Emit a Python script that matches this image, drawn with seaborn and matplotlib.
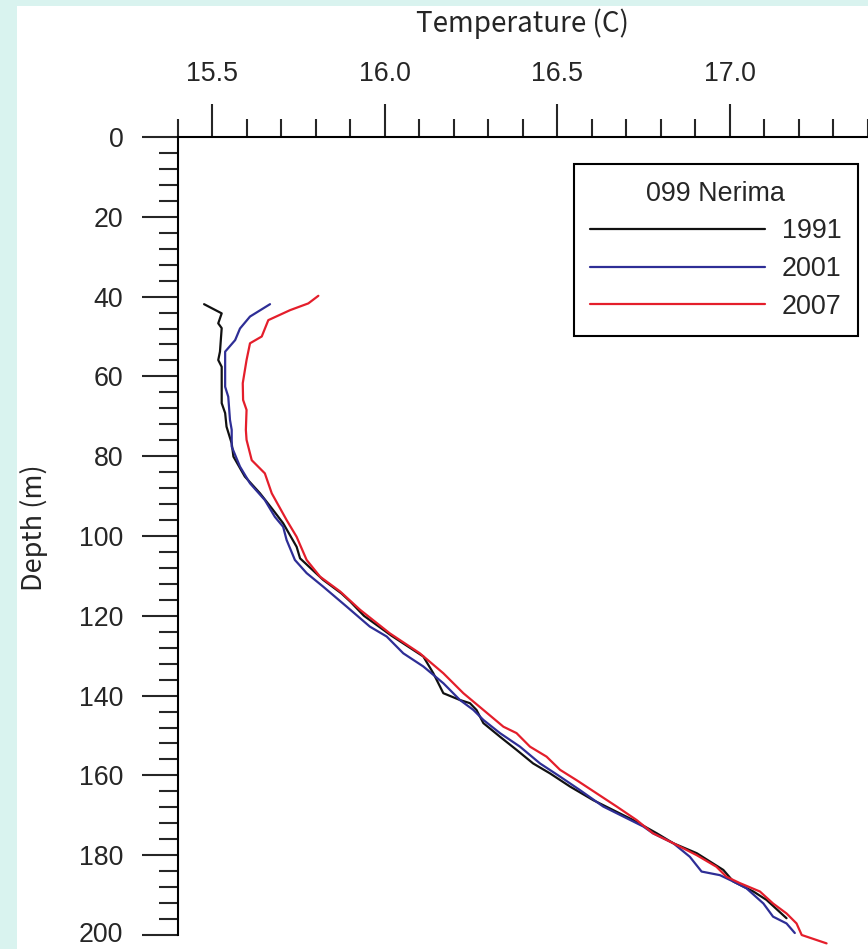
import numpy as np
import pandas as pd
import matplotlib
matplotlib.use('Agg')
import matplotlib.pyplot as plt
from matplotlib.ticker import MultipleLocator, FormatStrFormatter
from matplotlib.patches import Rectangle
from matplotlib.transforms import ScaledTranslation
import seaborn as sns

# 099 Nerima - temperature profiles
depth_1991 = [41.9, 44.2, 46.7, 47.9, 53.8, 55.9, 57.6, 62.0, 66.7, 69.2, 72.6, 76.8, 80.1,
              85.1, 89.3, 93.5, 96.8, 102.7, 105.6, 111.0, 114.4, 116.4, 120.0, 125.0, 130.2,
              134.4, 139.4, 141.1, 141.9, 143.6, 146.9, 150.3, 153.6, 157.0, 159.5, 162.8,
              166.2, 168.7, 171.2, 174.5, 177.0, 179.5, 183.7, 186.6, 189.1, 191.2, 195.8]
temp_1991 = [15.477, 15.528, 15.518, 15.528, 15.523, 15.518, 15.528, 15.528, 15.528, 15.538,
             15.542, 15.557, 15.562, 15.595, 15.639, 15.677, 15.706, 15.745, 15.755, 15.822,
             15.875, 15.900, 15.940, 16.020, 16.112, 16.141, 16.170, 16.218, 16.247, 16.266,
             16.286, 16.334, 16.382, 16.430, 16.479, 16.537, 16.604, 16.662, 16.720, 16.788,
             16.836, 16.904, 16.981, 17.010, 17.068, 17.106, 17.164]

depth_2001 = [41.9, 45.0, 48.0, 50.9, 53.8, 62.6, 65.1, 70.9, 73.4, 77.6, 82.6, 86.8, 91.0,
              95.2, 97.7, 101.0, 106.0, 109.3, 112.7, 117.7, 122.7, 125.2, 129.4, 132.7, 136.9,
              141.1, 143.6, 146.1, 149.4, 152.8, 157.0, 160.3, 163.7, 167.8, 170.3, 172.8,
              174.5, 177.0, 180.4, 184.1, 185.0, 186.6, 188.3, 192.1, 195.4, 197.1, 199.5]
temp_2001 = [15.668, 15.610, 15.581, 15.567, 15.538, 15.538, 15.547, 15.552, 15.557, 15.557,
             15.581, 15.610, 15.653, 15.682, 15.706, 15.716, 15.740, 15.774, 15.822, 15.890,
             15.957, 16.006, 16.054, 16.112, 16.170, 16.218, 16.257, 16.286, 16.334, 16.392,
             16.450, 16.508, 16.566, 16.633, 16.691, 16.749, 16.777, 16.836, 16.884, 16.918,
             16.971, 17.010, 17.048, 17.097, 17.125, 17.164, 17.188]

depth_2007 = [39.8, 41.7, 43.4, 45.9, 50.0, 51.7, 55.9, 61.7, 65.9, 68.4, 73.4, 75.9, 81.0,
              84.3, 89.3, 96.0, 100.2, 106.0, 110.2, 113.9, 118.5, 124.4, 129.4, 134.4, 139.4,
              143.6, 147.8, 149.4, 152.8, 155.3, 158.6, 161.2, 164.5, 167.8, 171.2, 174.5,
              177.0, 180.0, 182.9, 185.4, 187.0, 189.1, 192.1, 194.6, 197.1, 200.0, 202.1]
temp_2007 = [15.808, 15.779, 15.726, 15.663, 15.644, 15.610, 15.600, 15.589, 15.590, 15.600,
             15.598, 15.600, 15.615, 15.653, 15.673, 15.716, 15.745, 15.774, 15.813, 15.871,
             15.929, 16.015, 16.102, 16.170, 16.228, 16.286, 16.344, 16.382, 16.421, 16.469,
             16.508, 16.556, 16.614, 16.672, 16.730, 16.777, 16.836, 16.904, 16.961, 16.990,
             17.029, 17.087, 17.125, 17.164, 17.193, 17.208, 17.280]

years = ['1991', '2001', '2007']
colors = {'1991': '#111111', '2001': '#2e2e96', '2007': '#e41e2b'}

frames = []
for yr, d, t in zip(years, [depth_1991, depth_2001, depth_2007],
                    [temp_1991, temp_2001, temp_2007]):
    frames.append(pd.DataFrame({'Temperature': t, 'Depth': d, 'Year': yr}))
df = pd.concat(frames, ignore_index=True)

sns.set_style('white')
plt.rcParams['font.family'] = ['Liberation Sans', 'DejaVu Sans']
label_font = ['Noto Sans CJK JP', 'DejaVu Sans']

fig = plt.figure(figsize=(8.68, 9.49), dpi=100)
fig.patch.set_facecolor('#d9f3ef')
fig.patches.append(Rectangle((17 / 868, 0), 1, (949 - 6) / 949, transform=fig.transFigure,
                             facecolor='white', edgecolor='none', zorder=-1))
ax = fig.add_axes([177.5 / 868, 14 / 949, 690.5 / 868, 798 / 949])
ax.set_facecolor('none')

sns.lineplot(data=df, x='Temperature', y='Depth', hue='Year', palette=colors,
             orient='y', sort=False, estimator=None, linewidth=1.6, ax=ax, legend=False)
for ln in ax.lines:
    ln.set_clip_on(False)

ax.set_xlim(15.4, 17.4)
ax.set_ylim(200, 0)

for s in ['right', 'bottom']:
    ax.spines[s].set_visible(False)
for s in ['left', 'top']:
    ax.spines[s].set_linewidth(1.5)
    ax.spines[s].set_color('black')

ax.xaxis.tick_top()
ax.xaxis.set_label_position('top')
ax.set_xticks([15.5, 16.0, 16.5, 17.0])
ax.xaxis.set_minor_locator(MultipleLocator(0.1))
ax.xaxis.set_major_formatter(FormatStrFormatter('%.1f'))
ax.set_yticks(np.arange(0, 201, 20))
ax.yaxis.set_minor_locator(MultipleLocator(4))

ax.tick_params(axis='x', which='major', direction='out', length=24, width=1.5,
               pad=12, labelsize=19.3, top=True, bottom=False)
ax.tick_params(axis='x', which='minor', direction='out', length=13, width=1.5,
               top=True, bottom=False)
ax.tick_params(axis='y', which='major', direction='out', length=26, width=1.5,
               pad=13, labelsize=19.3, left=True)
ax.tick_params(axis='y', which='minor', direction='out', length=14, width=1.5, left=True)
for lab in ax.get_yticklabels():
    lab.set_verticalalignment('center_baseline')
# nudge the bottom "200" a few pixels up so it stays inside the picture
last = ax.get_yticklabels()[-1]
last.set_transform(last.get_transform() + ScaledTranslation(0, 3 / 100, fig.dpi_scale_trans))

ax.set_xlabel('Temperature (C)', fontsize=20, family=label_font, labelpad=21)
ax.set_ylabel('Depth (m)', fontsize=19.5, family=label_font)
ax.yaxis.set_label_coords(-0.187, 0.51)

handles = [plt.Line2D([], [], color=colors[y], linewidth=1.6) for y in years]
leg = ax.legend(handles, years, title='099 Nerima', loc='upper right',
                bbox_to_anchor=(0.9855, 0.966), borderaxespad=0, fontsize=19.4,
                title_fontsize=19.4, handlelength=6.5, handletextpad=0.6,
                labelspacing=0.43, borderpad=0.62, fancybox=False, framealpha=1,
                edgecolor='black')
leg.get_frame().set_linewidth(1.5)

fig.savefig('out.png', dpi=100, facecolor=fig.get_facecolor())
